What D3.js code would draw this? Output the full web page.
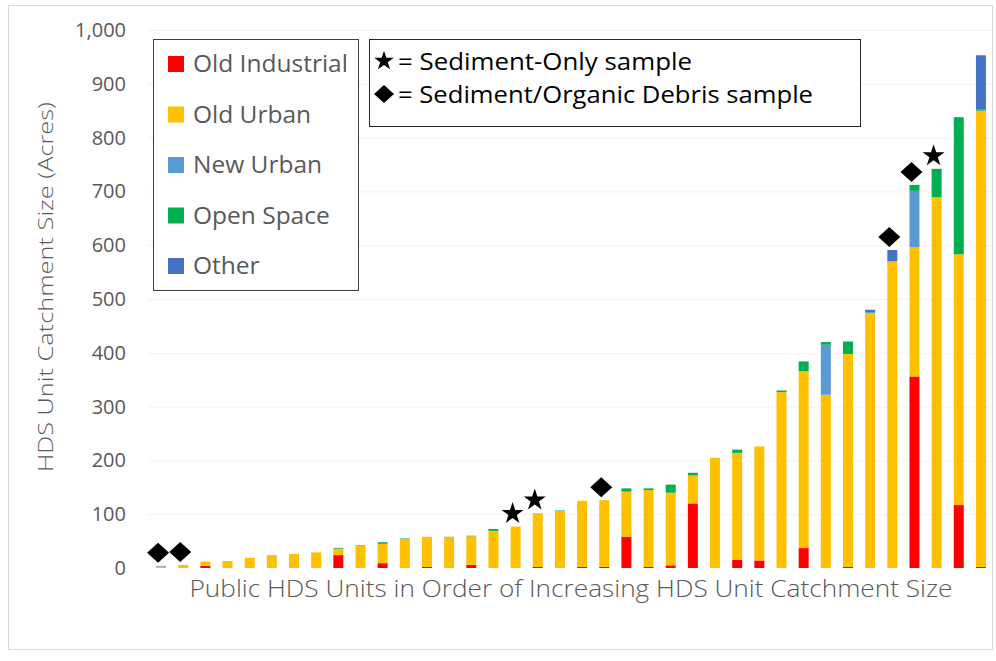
<!DOCTYPE html>
<html>
<head>
<meta charset="utf-8">
<script src="https://cdn.jsdelivr.net/npm/d3@7"></script>
<style>
  html, body { margin: 0; padding: 0; background: #ffffff; }
  svg { display: block; }
</style>
</head>
<body>
<svg id="chart" width="996" height="661"></svg>
<script>
// Catchment acreage of each public HDS unit, split by land-use type (acres)
const units = d3.range(1, 39).map(d => "HDS " + d);
const oldIndustrial = [0, 0, 4, 0, 0, 0, 0, 0, 24, 0, 9, 0, 2, 0, 6, 0, 0, 2, 0, 2, 2, 58, 2, 5, 120, 0, 15, 14, 0, 37, 0, 2, 0, 0, 356, 0, 117, 2];
const oldUrban      = [2.5, 5, 8, 13, 19, 24, 26, 29, 12, 41, 36, 54, 56, 57.5, 53, 69, 77, 100, 106, 123, 124, 84, 143, 135, 52, 205, 199, 212, 327, 329, 322, 396, 474, 570, 240, 689, 466, 848];
const newUrban      = [1.5, 0, 0, 0, 0, 0, 0, 0, 0, 0, 0, 0, 0, 0, 0, 0, 0, 0, 0, 0, 0, 0, 0, 0, 0, 0, 0, 0, 0, 0, 93, 0, 0, 0, 105, 0, 0, 0];
const openSpace     = [0, 0.5, 0, 0, 0, 0, 0, 0, 1.5, 1, 3, 1, 0, 0.5, 1, 3.5, 0, 0, 1, 0, 0, 6, 3, 15, 5, 0, 6, 0, 3, 18, 5, 23, 1, 0, 11, 53, 255, 2];
const other         = [0, 0, 0, 0, 0, 0, 0, 0, 0, 0, 0, 0, 0, 0, 0, 0, 0, 0, 0, 0, 0, 0, 0, 0, 0, 0, 0, 0, 0, 0, 0, 0, 5, 21, 0, 0, 0, 101];
// Sample type collected at each unit: "star" = sediment only, "diamond" = sediment/organic debris
const sampleType = ["diamond", "diamond", "", "", "", "", "", "", "", "", "", "", "", "", "", "", "star", "star", "", "", "diamond", "", "", "", "", "", "", "", "", "", "", "", "", "diamond", "diamond", "star", "", ""];

const seriesNames  = ["Old Industrial", "Old Urban", "New Urban", "Open Space", "Other"];
const seriesColors = ["#ff0000", "#ffc000", "#5b9bd5", "#00b050", "#4472c4"];
const yTicks = [0, 100, 200, 300, 400, 500, 600, 700, 800, 900, 1000];
const yTitle = "HDS Unit Catchment Size (Acres)";
const xTitle = "Public HDS Units in Order of Increasing HDS Unit Catchment Size";
const sampleLegend = [
  { type: "star", text: "= Sediment-Only sample" },
  { type: "diamond", text: "= Sediment/Organic Debris sample" }
];

const table = units.map((u, i) => ({
  unit: u,
  "Old Industrial": oldIndustrial[i],
  "Old Urban": oldUrban[i],
  "New Urban": newUrban[i],
  "Open Space": openSpace[i],
  "Other": other[i],
  sample: sampleType[i]
}));

const svg = d3.select("#chart");
const textGrey = "#595959";

// outer frame
svg.append("rect")
  .attr("x", 8.5).attr("y", 5.5).attr("width", 984).attr("height", 644)
  .attr("fill", "#ffffff").attr("stroke", "#d9d9d9").attr("stroke-width", 1);

const x = d3.scaleBand().domain(units).range([145, 997]).paddingInner(0.55).paddingOuter(0.5);
const y = d3.scaleLinear().domain([0, 1000]).range([568, 30]);

// horizontal gridlines
svg.append("g").selectAll("line").data(yTicks.slice(1)).join("line")
  .attr("x1", 148).attr("x2", 992)
  .attr("y1", d => y(d) + 0.5).attr("y2", d => y(d) + 0.5)
  .attr("stroke", "#f2f2f2").attr("stroke-width", 1);

// y axis labels
const yAxis = d3.axisLeft(y).tickValues(yTicks).tickFormat(d3.format(",")).tickSize(0).tickPadding(0);
const gy = svg.append("g").attr("transform", "translate(126,0)").call(yAxis);
gy.select(".domain").remove();
gy.selectAll("text")
  .attr("font-family", "'Open Sans', sans-serif").attr("font-size", 20).attr("fill", textGrey);

// stacked bars
const stack = d3.stack().keys(seriesNames);
const layers = stack(table);
svg.append("g").selectAll("g").data(layers).join("g")
  .attr("fill", (d, i) => seriesColors[i])
  .selectAll("rect").data(d => d).join("rect")
  .attr("x", d => x(d.data.unit))
  .attr("width", x.bandwidth())
  .attr("y", d => y(d[1]))
  .attr("height", d => Math.max(0, y(d[0]) - y(d[1])));

// sample markers above bars
const starPath = d3.symbol(d3.symbolStar, 150)();
const diamondPath = "M0,-10L11,0L0,10L-11,0Z";
const markerPath = t => t === "star" ? starPath : diamondPath;
const totals = table.map(d => d3.sum(seriesNames, k => d[k]));
svg.append("g").selectAll("path").data(table.filter(d => d.sample)).join("path")
  .attr("d", d => markerPath(d.sample))
  .attr("fill", "#000000")
  .attr("transform", d => {
    const i = units.indexOf(d.unit);
    const cx = x(d.unit) + x.bandwidth() / 2 - 3;
    const cy = y(totals[i]) - 13;
    return `translate(${cx},${cy})`;
  });

// axis titles
svg.append("text")
  .attr("transform", "translate(45,287) rotate(-90)")
  .attr("text-anchor", "middle").attr("dominant-baseline", "central")
  .attr("font-family", "'Open Sans', sans-serif").attr("font-weight", 300)
  .attr("font-size", 21).attr("fill", textGrey)
  .attr("textLength", 370).attr("lengthAdjust", "spacingAndGlyphs")
  .text(yTitle);
svg.append("text")
  .attr("x", 571).attr("y", 588)
  .attr("text-anchor", "middle").attr("dominant-baseline", "central")
  .attr("font-family", "'Open Sans', sans-serif").attr("font-weight", 300)
  .attr("font-size", 23).attr("fill", textGrey)
  .attr("textLength", 763).attr("lengthAdjust", "spacingAndGlyphs")
  .text(xTitle);

// land-use legend
const lg = svg.append("g");
lg.append("rect").attr("x", 153.5).attr("y", 39.5).attr("width", 205).attr("height", 251)
  .attr("fill", "#ffffff").attr("stroke", "#404040").attr("stroke-width", 1);
const items = lg.selectAll("g").data(seriesNames).join("g")
  .attr("transform", (d, i) => `translate(168,${64 + i * 50.5})`);
items.append("rect").attr("x", 0).attr("y", -8).attr("width", 16).attr("height", 16)
  .attr("fill", (d, i) => seriesColors[i]);
items.append("text").attr("x", 25).attr("y", -1.5).attr("dominant-baseline", "central")
  .attr("font-family", "'Open Sans', sans-serif").attr("font-size", 24.5).attr("fill", textGrey)
  .text(d => d);

// sample-type legend
const sg = svg.append("g");
sg.append("rect").attr("x", 369.5).attr("y", 39.5).attr("width", 491).attr("height", 87)
  .attr("fill", "#ffffff").attr("stroke", "#262626").attr("stroke-width", 1);
const sampleWidths = [294, 415];
const srows = sg.selectAll("g").data(sampleLegend).join("g")
  .attr("transform", (d, i) => `translate(384,${61 + i * 33})`);
srows.append("path").attr("d", d => d.type === "star" ? d3.symbol(d3.symbolStar, 120)() : "M0,-9L10,0L0,9L-10,0Z")
  .attr("fill", "#000000");
srows.append("text").attr("x", 14).attr("y", 0).attr("dominant-baseline", "central")
  .attr("font-family", "'Open Sans', sans-serif").attr("font-size", 23).attr("fill", "#000000")
  .attr("textLength", (d, i) => sampleWidths[i]).attr("lengthAdjust", "spacingAndGlyphs")
  .text(d => d.text);
</script>
</body>
</html>
